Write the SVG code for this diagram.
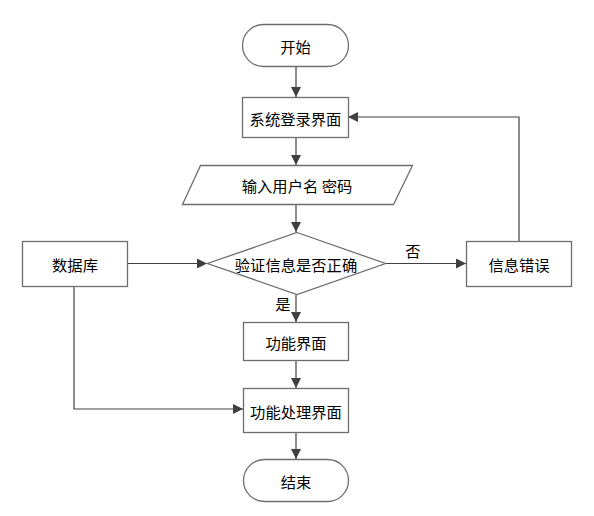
<svg xmlns="http://www.w3.org/2000/svg" width="594" height="516" viewBox="0 0 594 516">
<defs>
<marker id="ah" viewBox="0 0 10 10" refX="10" refY="5" markerWidth="10" markerHeight="10" markerUnits="userSpaceOnUse" orient="auto">
<path d="M0,0 L10,5 L0,10 z" fill="#404040"/>
</marker>
</defs>
<style>
.shape{fill:#ffffff;stroke:#6e6e6e;stroke-width:1.3}
.txt{font-family:"Noto Sans CJK SC","Microsoft YaHei",sans-serif;font-size:15.3px;fill:#000;text-anchor:middle;dominant-baseline:central}
.conn{fill:none;stroke:#404040;stroke-width:1.2;marker-end:url(#ah)}
</style>
<rect width="594" height="516" fill="#ffffff"/>
<g id="connectors">
<path class="conn" d="M296,67 V97"/>
<path class="conn" d="M296,137 V165"/>
<path class="conn" d="M296,204 V232"/>
<path class="conn" d="M127,263.5 H207"/>
<path class="conn" d="M385,263.5 H466"/>
<path class="conn" d="M519,241 V117 H348"/>
<path class="conn" d="M296,295 V322"/>
<path class="conn" d="M296,360 V388"/>
<path class="conn" d="M74,286 V409 H243"/>
<path class="conn" d="M296,432 V459"/>
<text class="txt" x="413" y="250">否</text>
<text class="txt" x="283" y="303">是</text>
</g>
<g id="start">
<rect class="shape" x="242.5" y="24.5" width="106" height="42" rx="21" ry="21"/>
<text class="txt" x="295.5" y="45.5">开始</text>
</g>
<g id="login">
<rect class="shape" x="242.5" y="97.5" width="106" height="40"/>
<text class="txt" x="295.5" y="117.5">系统登录界面</text>
</g>
<g id="input">
<polygon class="shape" points="200.5,165.5 412.5,165.5 393.5,204.5 182.5,204.5"/>
<text class="txt" x="297" y="185">输入用户名 密码</text>
</g>
<g id="database">
<rect class="shape" x="22.5" y="241.5" width="105" height="45"/>
<text class="txt" x="75" y="264">数据库</text>
</g>
<g id="verify">
<polygon class="shape" points="297,232.5 385.5,263.5 297,294.5 207.5,263.5"/>
<text class="txt" x="296" y="263.5">验证信息是否正确</text>
</g>
<g id="error">
<rect class="shape" x="466.5" y="241.5" width="105" height="45"/>
<text class="txt" x="519" y="264">信息错误</text>
</g>
<g id="func">
<rect class="shape" x="243.5" y="322.5" width="105" height="38"/>
<text class="txt" x="296" y="341.5">功能界面</text>
</g>
<g id="process">
<rect class="shape" x="243.5" y="388.5" width="105" height="44"/>
<text class="txt" x="296" y="410.5">功能处理界面</text>
</g>
<g id="end">
<rect class="shape" x="243.5" y="459.5" width="105" height="42" rx="21" ry="21"/>
<text class="txt" x="296" y="480.5">结束</text>
</g>
</svg>
